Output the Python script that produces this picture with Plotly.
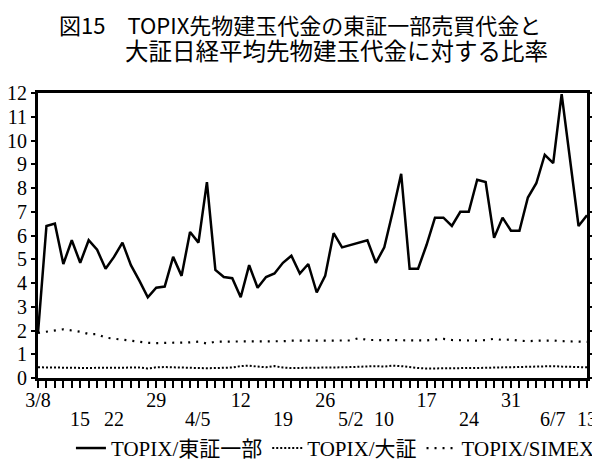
"""
図15 TOPIX先物建玉代金の比率（東証一部売買代金・大証・SIMEX）
"""
import pandas as pd
import plotly.graph_objects as go

# 取引日（1990/3/8〜6/13、祝日を除く）
holidays = ["1990-03-21", "1990-04-30", "1990-05-03", "1990-05-04"]
days = [d for d in pd.bdate_range("1990-03-08", "1990-06-13")
        if d.strftime("%Y-%m-%d") not in holidays]
day_keys = [d.strftime("%m-%d") for d in days]

# 目盛りラベル（上段・下段）
upper_labels = {"03-08": "3/8", "03-29": "29", "04-12": "12",
                "04-26": "26", "05-17": "17", "05-31": "31"}
lower_labels = {"03-15": "15", "03-22": "22", "04-05": "4/5",
                "04-19": "19", "05-02": "5/2", "05-10": "10",
                "05-24": "24", "06-07": "6/7", "06-13": "13"}

topix_tse = [1.9, 6.4, 6.5, 4.8, 5.8, 4.85, 5.8, 5.4, 4.6, 5.1,
             5.7, 4.75, 4.1, 3.4, 3.8, 3.85, 5.1, 4.3, 6.15, 5.7,
             8.25, 4.55, 4.25, 4.2, 3.4, 4.75, 3.8, 4.25, 4.4, 4.85,
             5.15, 4.4, 4.8, 3.6, 4.3, 6.1, 5.5, 5.6, 5.7, 5.8,
             4.85, 5.5, 7.0, 8.6, 4.6, 4.6, 5.6, 6.75, 6.75, 6.4,
             7.0, 7.0, 8.35, 8.25, 5.9, 6.75, 6.2, 6.2, 7.6, 8.2,
             9.4, 9.05, 11.95, 9.1, 6.4, 6.85]

topix_ose = [0.45, 0.44, 0.43, 0.43, 0.42, 0.42, 0.42, 0.43, 0.43, 0.44,
             0.45, 0.46, 0.44, 0.40, 0.45, 0.46, 0.45, 0.43, 0.41, 0.40,
             0.41, 0.42, 0.43, 0.44, 0.50, 0.52, 0.48, 0.45, 0.50, 0.44,
             0.42, 0.42, 0.43, 0.43, 0.44, 0.44, 0.45, 0.46, 0.47, 0.50,
             0.50, 0.48, 0.52, 0.50, 0.45, 0.42, 0.40, 0.41, 0.41, 0.40,
             0.41, 0.42, 0.42, 0.43, 0.43, 0.44, 0.45, 0.45, 0.46, 0.48,
             0.50, 0.50, 0.48, 0.46, 0.44, 0.45]

topix_simex = [1.9, 1.95, 2.0, 2.05, 2.0, 1.95, 1.85, 1.85, 1.7, 1.65,
               1.6, 1.55, 1.5, 1.48, 1.47, 1.47, 1.5, 1.5, 1.5, 1.53,
               1.45, 1.53, 1.53, 1.53, 1.53, 1.55, 1.55, 1.55, 1.55, 1.55,
               1.57, 1.57, 1.57, 1.57, 1.57, 1.57, 1.58, 1.58, 1.68, 1.6,
               1.6, 1.6, 1.58, 1.58, 1.6, 1.6, 1.58, 1.62, 1.65, 1.6,
               1.58, 1.57, 1.57, 1.6, 1.65, 1.6, 1.62, 1.57, 1.55, 1.57,
               1.58, 1.58, 1.55, 1.55, 1.52, 1.52]

SERIF = "Liberation Serif, Noto Sans CJK JP"
SANS = "Noto Sans CJK JP"

fig = go.Figure()
fig.add_trace(go.Scatter(x=day_keys, y=topix_tse, mode="lines",
                         name="TOPIX/東証一部",
                         line=dict(color="black", width=2.5)))
fig.add_trace(go.Scatter(x=day_keys, y=topix_ose, mode="lines",
                         name="TOPIX/大証",
                         line=dict(color="black", width=2, dash="2px,2px")))
fig.add_trace(go.Scatter(x=day_keys, y=topix_simex, mode="lines",
                         name="TOPIX/SIMEX",
                         line=dict(color="black", width=2.2, dash="2px,6px")))

# 上段は目盛りラベル、下段は注記として置く
tick_text = [upper_labels.get(k, "") for k in day_keys]
for k, label in lower_labels.items():
    fig.add_annotation(text=label, x=k, xref="x", yref="paper", y=-0.144,
                       yanchor="middle", showarrow=False,
                       font=dict(family=SERIF, size=20, color="black"))

fig.update_xaxes(
    type="category", range=[0, len(day_keys) - 1],
    tickmode="array", tickvals=day_keys, ticktext=tick_text,
    ticks="outside", ticklen=7, tickwidth=1.5, tickcolor="black",
    ticklabelstandoff=-5,
    showline=True, linewidth=3, linecolor="black", mirror=True,
    showgrid=False, zeroline=False,
    tickfont=dict(family=SERIF, size=20, color="black"),
)
fig.update_yaxes(
    range=[0, 12], dtick=1,
    ticks="outside", ticklen=4, tickwidth=1.5, tickcolor="black",
    showline=True, linewidth=3, linecolor="black", mirror="ticks",
    showgrid=False, zeroline=False,
    tickfont=dict(family=SERIF, size=20, color="black"),
)

# タイトル（2行）
fig.add_annotation(text="図15　TOPIX先物建玉代金の東証一部売買代金と",
                   xref="paper", yref="paper", x=0.035, y=1.242,
                   xanchor="left", yanchor="middle", showarrow=False,
                   font=dict(family=SANS, size=22, color="black"))
fig.add_annotation(text="大証日経平均先物建玉代金に対する比率",
                   xref="paper", yref="paper", x=0.155, y=1.151,
                   xanchor="left", yanchor="middle", showarrow=False,
                   font=dict(family=SANS, size=23.5, color="black"))

# ページ余白（8px）の分だけ図を小さくして配置を合わせる
fig.update_layout(
    width=592, height=452,
    margin=dict(l=30, r=13, t=85, b=82, autoexpand=False),
    paper_bgcolor="white", plot_bgcolor="white",
    showlegend=True,
    legend=dict(orientation="h", x=0.06, y=-0.175, xanchor="left", yanchor="top",
                itemwidth=30, font=dict(family=SERIF, size=21, color="black"),
                bgcolor="rgba(0,0,0,0)"),
)

fig.write_html("out.html")
